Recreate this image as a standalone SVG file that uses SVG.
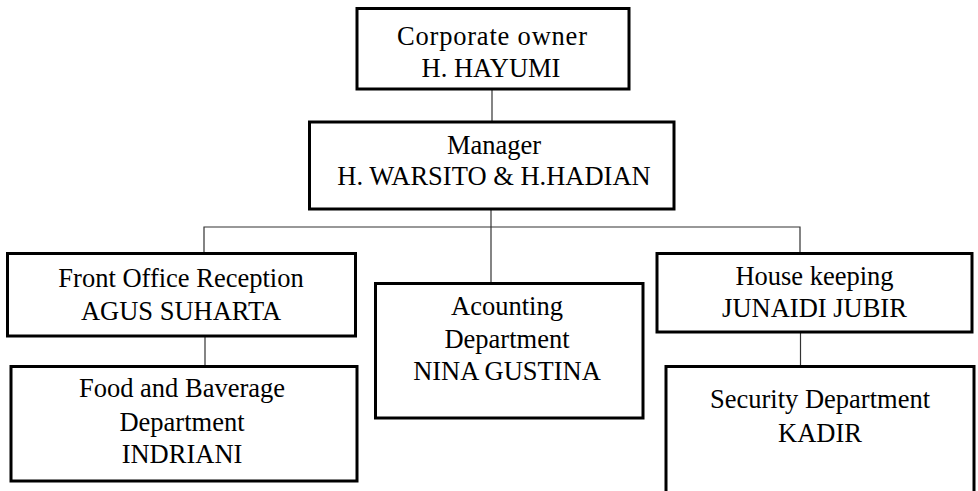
<svg xmlns="http://www.w3.org/2000/svg" width="978" height="491" viewBox="0 0 978 491">
<style>
.box{fill:#fff;stroke:#000;stroke-width:3}
.t{font-family:"Liberation Serif","Times New Roman",serif;font-size:26.5px;fill:#000;text-anchor:middle}
.c{stroke:#333;stroke-width:1.2;fill:none}
</style>
<rect width="978" height="491" fill="#fff"/>
<g id="connectors">
<line class="c" x1="492" y1="89" x2="492" y2="122"/>
<line class="c" x1="491" y1="209" x2="491" y2="283"/>
<polyline class="c" points="204,253 204,227 800,227 800,253"/>
<line class="c" x1="205" y1="336" x2="205" y2="366"/>
<line class="c" x1="800.5" y1="332" x2="800.5" y2="366"/>
</g>
<g id="owner">
<rect class="box" x="357" y="8.5" width="272" height="80.5"/>
<text class="t" x="492" y="45" textLength="190" lengthAdjust="spacing">Corporate owner</text>
<text class="t" x="491" y="77">H. HAYUMI</text>
</g>
<g id="manager">
<rect class="box" x="309.5" y="122" width="364.5" height="87"/>
<text class="t" x="494" y="154">Manager</text>
<text class="t" x="494" y="185">H. WARSITO &amp; H.HADIAN</text>
</g>
<g id="front-office">
<rect class="box" x="7.5" y="253.5" width="348" height="82.5"/>
<text class="t" x="181" y="287">Front Office Reception</text>
<text class="t" x="181" y="320">AGUS SUHARTA</text>
</g>
<g id="food">
<rect class="box" x="11" y="366.5" width="346" height="114.5"/>
<text class="t" x="182" y="397">Food and Baverage</text>
<text class="t" x="182" y="431">Department</text>
<text class="t" x="182" y="463">INDRIANI</text>
</g>
<g id="accounting">
<rect class="box" x="375.5" y="283.5" width="267.5" height="134.5"/>
<text class="t" x="507" y="315">Acounting</text>
<text class="t" x="507" y="348">Department</text>
<text class="t" x="507" y="380">NINA GUSTINA</text>
</g>
<g id="housekeeping">
<rect class="box" x="657" y="253.5" width="315" height="78.5"/>
<text class="t" x="814.5" y="285">House keeping</text>
<text class="t" x="814.5" y="317">JUNAIDI JUBIR</text>
</g>
<g id="security">
<rect class="box" x="666" y="366.5" width="308" height="140"/>
<text class="t" x="820" y="408">Security Department</text>
<text class="t" x="820" y="442">KADIR</text>
</g>
</svg>
